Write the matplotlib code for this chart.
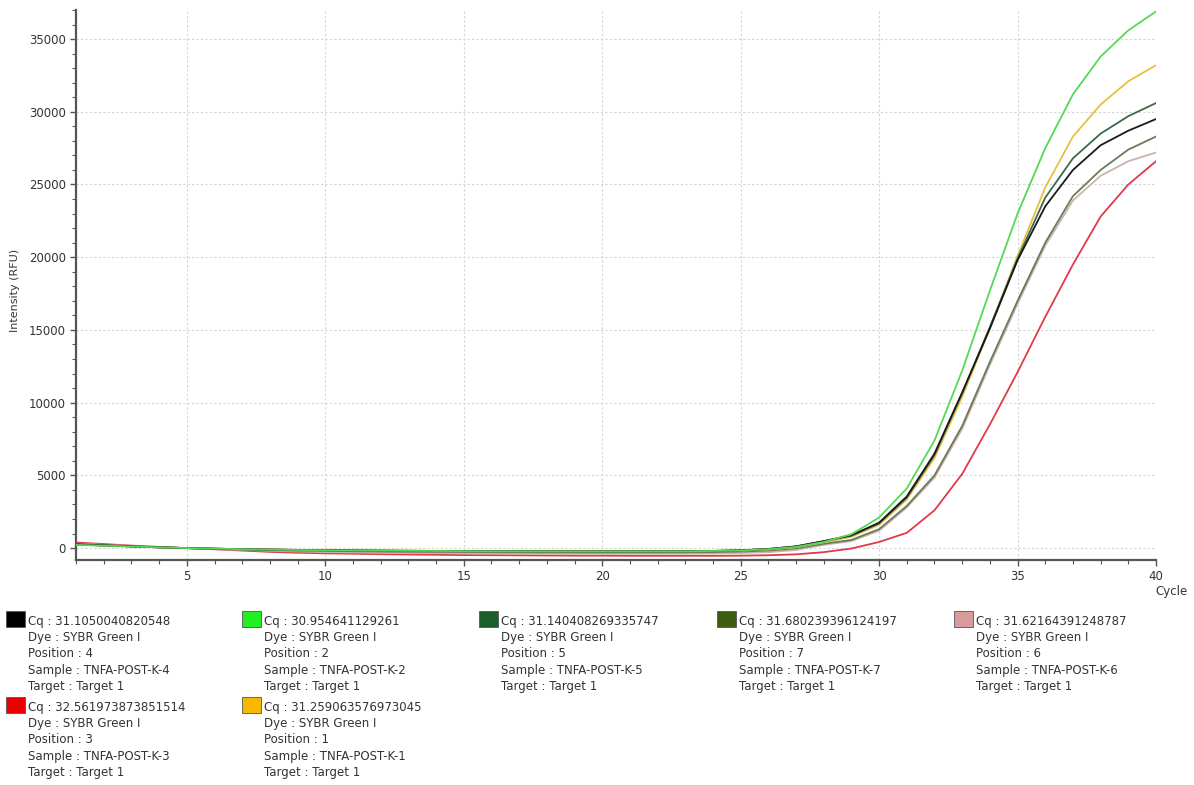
import numpy as np
import matplotlib
matplotlib.use("Agg")
import matplotlib.pyplot as plt
from matplotlib.patches import Rectangle
from matplotlib.ticker import MultipleLocator

# amplification curves, one value per cycle (1..40)
cycles = list(range(1, 41))

rfu_pos4 = [260, 190, 120, 55, 0, -40, -75, -100, -125, -145, -160, -175, -185, -195, -205, -210, -215, -220, -225, -225,
            -225, -220, -215, -195, -150, -60, 120, 480, 880, 1750, 3550, 6500, 10700, 15100, 19800, 23500, 26000, 27700, 28700, 29500]
rfu_pos2 = [220, 170, 110, 50, 0, -40, -75, -105, -130, -150, -165, -180, -190, -200, -210, -215, -220, -225, -230, -230,
            -230, -225, -220, -200, -160, -80, 80, 420, 950, 2100, 4100, 7400, 12200, 17700, 23000, 27500, 31200, 33800, 35600, 36900]
rfu_pos5 = [240, 180, 115, 50, 0, -40, -75, -100, -125, -145, -160, -175, -185, -195, -205, -210, -215, -220, -225, -225,
            -225, -220, -215, -195, -155, -65, 110, 470, 860, 1700, 3480, 6400, 10650, 15200, 19900, 24100, 26800, 28500, 29700, 30600]
rfu_pos7 = [250, 185, 115, 50, 0, -50, -95, -135, -170, -195, -215, -235, -250, -260, -270, -280, -285, -290, -295, -295,
            -295, -295, -290, -275, -240, -170, -20, 300, 560, 1300, 2900, 5000, 8400, 12800, 17000, 21000, 24200, 26000, 27400, 28300]
rfu_pos6 = [300, 220, 140, 60, 0, -60, -120, -180, -230, -270, -300, -320, -335, -350, -360, -370, -375, -380, -385, -385,
            -385, -385, -380, -370, -340, -280, -130, 220, 480, 1200, 2800, 4850, 8200, 12600, 16800, 20800, 23900, 25600, 26600, 27200]
rfu_pos3 = [380, 280, 170, 80, 0, -80, -170, -260, -320, -360, -390, -420, -440, -460, -480, -490, -500, -510, -520, -520,
            -530, -530, -530, -530, -520, -490, -430, -280, -30, 420, 1050, 2600, 5100, 8500, 12100, 15900, 19500, 22800, 25000, 26600]
rfu_pos1 = [230, 175, 110, 50, 0, -40, -75, -105, -130, -150, -165, -180, -190, -200, -210, -215, -220, -225, -230, -230,
            -230, -225, -220, -205, -170, -95, 60, 400, 780, 1600, 3350, 6200, 10400, 15100, 20100, 24800, 28300, 30500, 32100, 33200]

# legend texts, in the order of the legend
cq_values = ["31.1050040820548", "30.954641129261", "31.140408269335747", "31.680239396124197",
             "31.62164391248787", "32.561973873851514", "31.259063576973045"]
positions = ["4", "2", "5", "7", "6", "3", "1"]
samples = ["TNFA-POST-K-4", "TNFA-POST-K-2", "TNFA-POST-K-5", "TNFA-POST-K-7",
           "TNFA-POST-K-6", "TNFA-POST-K-3", "TNFA-POST-K-1"]
curves = [rfu_pos4, rfu_pos2, rfu_pos5, rfu_pos7, rfu_pos6, rfu_pos3, rfu_pos1]

swatch_colors = ["#000000", "#22f022", "#1b5e2b", "#3d5c12", "#d89a9a", "#ee0000", "#f8b800"]
line_colors = ["#1a1a1a", "#55d855", "#3a6a48", "#6b7a58", "#c8b4b0", "#e03a4a", "#e8c040"]

plt.rcParams['font.family'] = ['DejaVu Sans']

fig = plt.figure(figsize=(11.94, 7.85), dpi=100)
ax = fig.add_axes([0.0637, 0.2866, 0.9045, 0.7007])

# draw red/pink first so the darker curves sit on top
order = [5, 4, 3, 6, 2, 0, 1]
for i in order:
    ax.plot(cycles, curves[i], color=line_colors[i], lw=1.3, zorder=3)

ax.set_xlim(1, 40)
ax.set_ylim(-820, 37000)
ax.xaxis.set_major_locator(MultipleLocator(5))
ax.xaxis.set_minor_locator(MultipleLocator(1))
ax.yaxis.set_major_locator(MultipleLocator(5000))
ax.yaxis.set_minor_locator(MultipleLocator(1000))
ax.grid(True, which='major', color='#d4d4d4', ls=(0, (2, 2)), lw=0.8)

for s in ['top', 'right']:
    ax.spines[s].set_visible(False)
for s in ['left', 'bottom']:
    ax.spines[s].set_color('#555555')
    ax.spines[s].set_linewidth(1.6)

ax.tick_params(which='both', direction='out', colors='#555555', labelcolor='#333333', labelsize=8.5)
ax.tick_params(which='major', length=4, width=1)
ax.tick_params(which='minor', length=3, width=0.8)
ax.tick_params(axis='x', pad=3)

fig.text(15 / 1194, 1 - 290 / 785, "Intensity (RFU)", rotation=90, ha='center', va='center',
         fontsize=8, color='#333333')
fig.text(1172 / 1194, 1 - 592 / 785, "Cycle", ha='center', va='center', fontsize=8.5, color='#333333')

# legend boxes below the plot
col_x = [6, 242, 479, 717, 954]
row_y = [611, 697]
line_gap = 16.2
for k in range(len(cq_values)):
    c = k % 5
    r = k // 5
    x0 = col_x[c]
    y0 = row_y[r]
    fig.patches.append(Rectangle((x0 / 1194, 1 - (y0 + 16) / 785), 19 / 1194, 16 / 785,
                                 transform=fig.transFigure, facecolor=swatch_colors[k],
                                 edgecolor='#555555', lw=0.6))
    lines = ["Cq : " + cq_values[k], "Dye : SYBR Green I", "Position : " + positions[k],
             "Sample : " + samples[k], "Target : Target 1"]
    for j, t in enumerate(lines):
        fig.text((x0 + 22) / 1194, 1 - (y0 + 10.5 + j * line_gap) / 785, t,
                 ha='left', va='center', fontsize=8.5, color='#333333')

fig.savefig("out.png", dpi=100)
